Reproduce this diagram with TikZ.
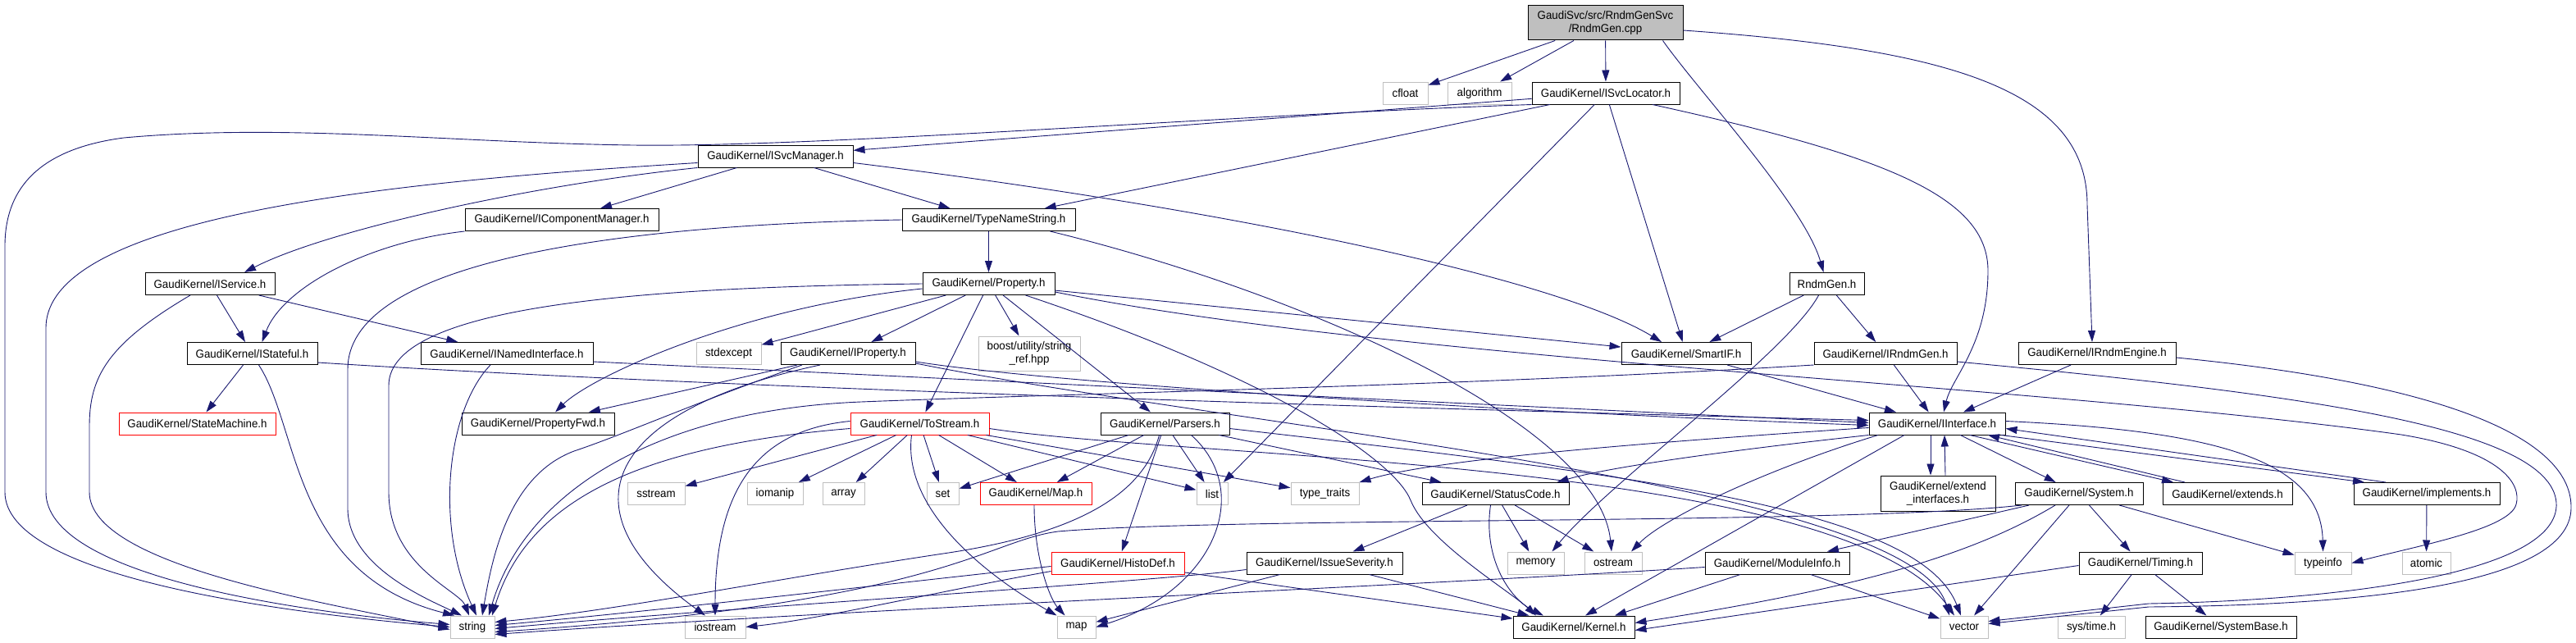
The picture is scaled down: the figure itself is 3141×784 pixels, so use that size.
\documentclass[tikz,border=0pt]{standalone}
\usepackage{fontspec}
\setmainfont{Liberation Sans}[FakeStretch=0.95]
\usepackage{tikz}
\usetikzlibrary{arrows.meta}
\definecolor{edgeblue}{HTML}{191970}
\definecolor{boxgray}{HTML}{BFBFBF}

\begin{document}
\begin{tikzpicture}[x=1pt, y=-1pt, font=\fontsize{14pt}{16pt}\selectfont,
  hdr/.style={draw=black, line width=1pt, minimum height=27pt, inner sep=2pt, align=center},
  sys/.style={hdr, draw=boxgray},
  trunc/.style={hdr, draw=red},
  dep/.style={draw=edgeblue, line width=0.9pt, -{Triangle[length=14pt,width=9pt]}}]
\useasboundingbox (0,0) rectangle (3141,784);

\node[hdr, fill=boxgray, minimum width=189pt, minimum height=42pt] (rndmcpp) at (1957.5,28) {GaudiSvc/src/RndmGenSvc\\/RndmGen.cpp};
\node[sys, minimum width=55pt] (cfloat) at (1713.5,113.5) {cfloat};
\node[sys, minimum width=78pt] (algorithm) at (1804,113.5) {algorithm};
\node[hdr, minimum width=180pt] (svcloc) at (1958,113.5) {GaudiKernel/ISvcLocator.h};
\node[hdr, minimum width=189pt] (svcmgr) at (945.5,190.5) {GaudiKernel/ISvcManager.h};
\node[hdr, minimum width=236pt] (compmgr) at (685,268) {GaudiKernel/IComponentManager.h};
\node[hdr, minimum width=211pt] (typename) at (1205.5,268) {GaudiKernel/TypeNameString.h};
\node[hdr, minimum width=158pt] (service) at (256,346) {GaudiKernel/IService.h};
\node[hdr, minimum width=161pt] (property) at (1205.5,346) {GaudiKernel/Property.h};
\node[hdr, minimum width=91pt] (rndmgenh) at (2227.5,346) {RndmGen.h};
\node[hdr, minimum width=159pt] (stateful) at (307.5,431) {GaudiKernel/IStateful.h};
\node[hdr, minimum width=210pt] (named) at (618,431) {GaudiKernel/INamedInterface.h};
\node[sys, minimum width=79pt] (stdexcept) at (888.5,431) {stdexcept};
\node[hdr, minimum width=164pt] (iprop) at (1034,431) {GaudiKernel/IProperty.h};
\node[sys, minimum width=124pt, minimum height=42pt] (boostref) at (1255,431) {boost/utility/string\\\_ref.hpp};
\node[hdr, minimum width=158pt] (smartif) at (2056,431) {GaudiKernel/SmartIF.h};
\node[hdr, minimum width=174pt] (irndmgen) at (2299,431) {GaudiKernel/IRndmGen.h};
\node[hdr, minimum width=192pt] (irndmeng) at (2557,431) {GaudiKernel/IRndmEngine.h};
\node[trunc, minimum width=191pt] (statemach) at (240.5,516.5) {GaudiKernel/StateMachine.h};
\node[hdr, minimum width=186pt] (propfwd) at (656,516.5) {GaudiKernel/PropertyFwd.h};
\node[trunc, minimum width=169pt] (tostream) at (1121.5,516.5) {GaudiKernel/ToStream.h};
\node[hdr, minimum width=157pt] (parsers) at (1420.5,516.5) {GaudiKernel/Parsers.h};
\node[hdr, minimum width=166pt] (iiface) at (2362,516.5) {GaudiKernel/IInterface.h};
\node[sys, minimum width=70pt] (sstream) at (800,602) {sstream};
\node[sys, minimum width=68pt] (iomanip) at (945,602) {iomanip};
\node[sys, minimum width=51pt] (stdarray) at (1028.5,602) {array};
\node[sys, minimum width=39pt] (stdset) at (1149.5,602) {set};
\node[trunc, minimum width=136pt] (gkmap) at (1263,602) {GaudiKernel/Map.h};
\node[sys, minimum width=38pt] (stdlist) at (1478,602) {list};
\node[sys, minimum width=83pt] (typetraits) at (1615.5,602) {type\_traits};
\node[hdr, minimum width=179pt] (statuscode) at (1823.5,602) {GaudiKernel/StatusCode.h};
\node[hdr, minimum width=140pt, minimum height=43pt] (extendif) at (2363,601.5) {GaudiKernel/extend\\\_interfaces.h};
\node[hdr, minimum width=156pt] (system) at (2535,602) {GaudiKernel/System.h};
\node[hdr, minimum width=158pt] (extends) at (2716,602) {GaudiKernel/extends.h};
\node[hdr, minimum width=178pt] (implements) at (2959,602) {GaudiKernel/implements.h};
\node[trunc, minimum width=162pt] (histodef) at (1363,686.5) {GaudiKernel/HistoDef.h};
\node[hdr, minimum width=190pt] (issuesev) at (1615,686.5) {GaudiKernel/IssueSeverity.h};
\node[sys, minimum width=69pt] (memory) at (1872.5,686.5) {memory};
\node[sys, minimum width=70pt] (ostream) at (1967,686.5) {ostream};
\node[hdr, minimum width=176pt] (moduleinfo) at (2167,686.5) {GaudiKernel/ModuleInfo.h};
\node[hdr, minimum width=150pt] (timing) at (2610,686.5) {GaudiKernel/Timing.h};
\node[sys, minimum width=69pt] (typeinfo) at (2832.5,686.5) {typeinfo};
\node[sys, minimum width=59pt] (atomic) at (2958.5,686.5) {atomic};
\node[sys, minimum width=54pt] (stdstring) at (576,764.5) {string};
\node[sys, minimum width=74pt] (iostream) at (872,764.5) {iostream};
\node[sys, minimum width=47pt] (stdmap) at (1312.5,764.5) {map};
\node[hdr, minimum width=148pt] (kernel) at (1919,764.5) {GaudiKernel/Kernel.h};
\node[sys, minimum width=58pt] (vector) at (2395,764.5) {vector};
\node[sys, minimum width=82pt] (systime) at (2550,764.5) {sys/time.h};
\node[hdr, minimum width=184pt] (systembase) at (2708,764.5) {GaudiKernel/SystemBase.h};

\draw[dep] (rndmcpp) -- (cfloat);
\draw[dep] (rndmcpp) -- (algorithm);
\draw[dep] (rndmcpp) -- (svcloc);
\draw[dep] ([xshift=70]rndmcpp.south) .. controls (2070,110) and (2200,250) .. ([xshift=-4]rndmgenh.north);
\draw[dep] ([yshift=-9]rndmcpp.east) .. controls (2380,60) and (2545,110) .. (2545,250) -- ([xshift=-6]irndmeng.north);

\draw[dep] (svcloc) -- (svcmgr);
\draw[dep] (svcloc.south west) .. controls (1500,140) and (1000,180) .. (772,177) .. controls (550,174) and (350,150) .. (151,168) .. controls (60,180) and (6,220) .. (6,300) -- (6,600) .. controls (6,700) and (320,745) .. (stdstring.west);
\draw[dep] (svcloc) -- (typename);
\draw[dep] (svcloc) -- (stdlist);
\draw[dep] (svcloc) -- (smartif);
\draw[dep] ([xshift=57]svcloc.south) .. controls (2300,190) and (2424,240) .. (2424,330) .. controls (2424,420) and (2380,460) .. ([xshift=8]iiface.north);

\draw[dep] ([yshift=-8]svcmgr.west) .. controls (500,220) and (56,260) .. (56,400) -- (56,600) .. controls (56,700) and (350,745) .. ([yshift=3]stdstring.west);
\draw[dep] (svcmgr.south west) .. controls (650,225) and (400,280) .. ([xshift=42]service.north);
\draw[dep] (svcmgr) -- (compmgr);
\draw[dep] (svcmgr) -- (typename);
\draw[dep] ([yshift=-8]svcmgr.east) .. controls (1500,255) and (1900,340) .. ([xshift=-30]smartif.north);

\draw[dep] (compmgr.south west) .. controls (450,295) and (345,350) .. ([xshift=12]stateful.north);

\draw[dep] ([xshift=-24]service.south) .. controls (130,420) and (109,460) .. (109,520) -- (109,600) .. controls (109,690) and (400,735) .. ([yshift=-3]stdstring.west);
\draw[dep] (service) -- (stateful);
\draw[dep] (service) -- (named);

\draw[dep] (typename) -- (property);
\draw[dep] (typename.west) .. controls (700,275) and (424,330) .. (424,450) -- (424,620) .. controls (424,690) and (520,730) .. ([xshift=-13]stdstring.north);
\draw[dep] ([xshift=75]typename.south) .. controls (1600,360) and (1950,520) .. ([xshift=-2]ostream.north);

\draw[dep] (property.west) .. controls (800,350) and (474,370) .. (474,470) -- (474,600) .. controls (474,690) and (560,720) .. ([xshift=-4]stdstring.north);
\draw[dep] ([yshift=-6]property.west) .. controls (900,375) and (720,460) .. ([xshift=21]propfwd.north);
\draw[dep] (property) -- (stdexcept);
\draw[dep] (property) -- (iprop);
\draw[dep] (property) -- (tostream);
\draw[dep] (property) -- (boostref);
\draw[dep] (property) -- (parsers);
\draw[dep] ([xshift=45]property.south) .. controls (1550,460) and (1700,560) .. (1720,610) .. controls (1740,660) and (1840,720) .. ([xshift=-46]kernel.north);
\draw[dep] (property) -- (smartif);
\draw[dep] ([yshift=-10]property.east) .. controls (1700,440) and (2500,470) .. (2928,530) .. controls (3050,550) and (3075,590) .. (3068,615) .. controls (3060,645) and (2950,665) .. (typeinfo.east);

\draw[dep] (iprop) -- (propfwd);
\draw[dep] ([xshift=-56]iprop.south) .. controls (850,490) and (760,530) .. (700,550) .. controls (620,580) and (600,680) .. ([xshift=12]stdstring.north);
\draw[dep] ([xshift=-34]iprop.south) .. controls (740,500) and (680,620) .. ([xshift=-12]iostream.north);
\draw[dep] ([yshift=-10]iprop.east) .. controls (1300,470) and (1900,505) .. ([yshift=-2]iiface.west);
\draw[dep] ([yshift=-12]iprop.east) .. controls (1500,520) and (2330,590) .. ([xshift=-18]vector.north);

\draw[dep] ([xshift=-20]named.south) .. controls (545,500) and (530,640) .. ([xshift=5]stdstring.north);
\draw[dep] ([yshift=-10]named.east) -- ([yshift=1]iiface.west);

\draw[dep] (stateful) -- (statemach);
\draw[dep] ([xshift=8]stateful.south) .. controls (365,520) and (355,700) .. ([xshift=-22]stdstring.north);
\draw[dep] ([yshift=-11]stateful.east) .. controls (900,475) and (1800,500) .. ([yshift=4]iiface.west);

\draw[dep] (smartif) -- (iiface);
\draw[dep] (rndmgenh) -- (smartif);
\draw[dep] (rndmgenh) -- (irndmgen);
\draw[dep] ([xshift=-10]rndmgenh.south) .. controls (2180,430) and (1960,590) .. ([xshift=20]memory.north);

\draw[dep] (irndmgen) -- (iiface);
\draw[dep] (irndmgen.south west) .. controls (1800,470) and (1300,480) .. (1050,490) .. controls (800,500) and (640,600) .. ([xshift=20]stdstring.north);
\draw[dep] ([yshift=-10]irndmgen.east) .. controls (2800,480) and (3110,520) .. (3117,613) .. controls (3122,700) and (2850,732) .. (2620,736) -- ([yshift=7]vector.east);
\draw[dep] (irndmeng) -- (iiface);
\draw[dep] ([yshift=-5]irndmeng.east) .. controls (3000,470) and (3137,540) .. (3135,620) .. controls (3133,715) and (2870,738) .. (2620,740) -- ([yshift=4]vector.east);

\draw[dep] (tostream) -- (sstream);
\draw[dep] (tostream) -- (iomanip);
\draw[dep] (tostream) -- (stdarray);
\draw[dep] (tostream) -- (stdset);
\draw[dep] (tostream) -- (gkmap);
\draw[dep] (tostream) -- (stdlist);
\draw[dep] (tostream) -- (typetraits);
\draw[dep] ([xshift=-10]tostream.south) .. controls (1100,620) and (1200,700) .. (stdmap.north west);
\draw[dep] ([yshift=-6]tostream.west) .. controls (760,545) and (640,620) .. ([xshift=24]stdstring.north);
\draw[dep] ([yshift=3]tostream.west) .. controls (920,525) and (872,600) .. (iostream.north);
\draw[dep] ([yshift=-6]tostream.east) .. controls (1450,560) and (2250,560) .. ([xshift=-12]vector.north);

\draw[dep] (parsers) -- (stdset);
\draw[dep] (parsers) -- (gkmap);
\draw[dep] (parsers) -- (stdlist);
\draw[dep] (parsers) -- (histodef);
\draw[dep] ([xshift=32]parsers.south) .. controls (1530,600) and (1480,720) .. (stdmap.east);
\draw[dep] ([xshift=-7]parsers.south) .. controls (1395,600) and (1320,650) .. (1150,675) .. controls (950,705) and (750,745) .. ([yshift=6]stdstring.east);
\draw[dep] (parsers) -- (statuscode);
\draw[dep] ([yshift=-6]parsers.east) .. controls (2000,580) and (2340,620) .. ([xshift=-4]vector.north);

\draw[dep] ([xshift=-2]gkmap.south) .. controls (1261,680) and (1280,730) .. ([xshift=-14]stdmap.north);

\draw[dep] (statuscode) -- (issuesev);
\draw[dep] ([xshift=-6]statuscode.south) .. controls (1808,680) and (1840,730) .. ([xshift=-37]kernel.north);
\draw[dep] (statuscode) -- (memory);
\draw[dep] (statuscode) -- (ostream);

\draw[dep] (issuesev) -- (stdmap);
\draw[dep] (issuesev) -- (kernel);
\draw[dep] ([yshift=-8]issuesev.west) .. controls (1400,710) and (900,740) .. ([yshift=-2]stdstring.east);

\draw[dep] ([yshift=-4]histodef.west) .. controls (1100,710) and (800,745) .. ([yshift=2]stdstring.east);
\draw[dep] ([yshift=-10]histodef.west) .. controls (1150,720) and (1000,755) .. (iostream.east);
\draw[dep] (histodef) -- (kernel);

\draw[dep] ([xshift=-8]iiface.south) -- ([xshift=-9]extendif.north);
\draw[dep] ([xshift=9]extendif.north) -- ([xshift=9]iiface.south);
\draw[dep] ([xshift=40]iiface.south) -- ([xshift=-66]extends.north);
\draw[dep] ([xshift=-52]extends.north) -- ([xshift=62]iiface.south);
\draw[dep] ([xshift=78]iiface.south) -- ([xshift=-76]implements.north);
\draw[dep] ([xshift=-50]implements.north) -- ([yshift=-6]iiface.east);
\draw[dep] (iiface) -- (system);
\draw[dep] ([yshift=3]iiface.east) .. controls (2700,525) and (2830,560) .. (typeinfo.north);
\draw[dep] ([yshift=-5]iiface.west) .. controls (2000,540) and (1750,560) .. (typetraits.north east);
\draw[dep] (iiface.south west) .. controls (2100,550) and (1960,570) .. ([xshift=75]statuscode.north);
\draw[dep] ([xshift=-72]iiface.south) .. controls (2160,570) and (2030,630) .. ([xshift=22]ostream.north);
\draw[dep] ([xshift=-40]iiface.south) -- ([xshift=14]kernel.north);

\draw[dep] (system) -- (moduleinfo);
\draw[dep] ([xshift=-29]system.south) .. controls (2400,680) and (2250,720) .. ([yshift=5]kernel.east);
\draw[dep] (system) -- (vector);
\draw[dep] (system) -- (timing);
\draw[dep] (system) -- (typeinfo);
\draw[dep] ([xshift=-70]system.south) .. controls (2250,640) and (1500,630) .. (1290,648) .. controls (1200,660) and (1150,735) .. ([yshift=-6]stdstring.east);

\draw[dep] ([xshift=-45]moduleinfo.south) -- ([xshift=50]kernel.north);
\draw[dep] (moduleinfo) -- (vector);
\draw[dep] ([yshift=-5]moduleinfo.west) .. controls (1800,710) and (1000,745) .. ([yshift=-9]stdstring.east);

\draw[dep] (timing) -- (systime);
\draw[dep] (timing) -- (systembase);
\draw[dep] ([yshift=-3]timing.west) -- ([yshift=-4]kernel.east);

\draw[dep] (implements) -- (atomic);
\end{tikzpicture}
\end{document}
